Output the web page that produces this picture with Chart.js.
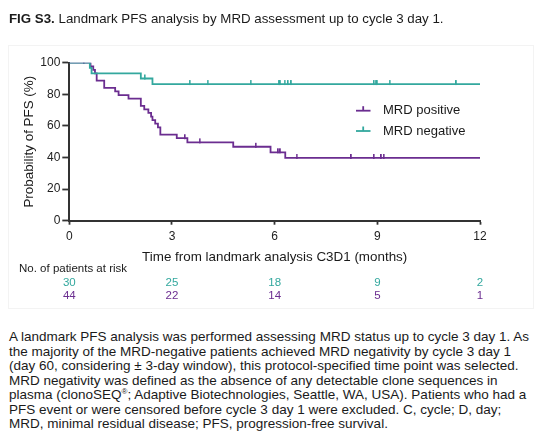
<!DOCTYPE html>
<html>
<head>
<meta charset="utf-8">
<script src="https://cdn.jsdelivr.net/npm/chart.js@4.4.1/dist/chart.umd.min.js"></script>
<style>
  html, body { margin:0; padding:0; background:#fff; }
  body { width:545px; height:439px; position:relative; overflow:hidden; font-family:"Liberation Sans", Arial, sans-serif; color:#1a1a1a; }
  #title { position:absolute; left:9px; top:11px; font-size:13.3px; line-height:15px; white-space:nowrap; }
  #wrap { position:absolute; left:0; top:0; width:545px; height:310px; }
  #frame { position:absolute; left:8px; top:45px; width:524px; height:262px; border:1px solid #f3f3f3; }
  #para { position:absolute; left:9px; top:330px; font-size:13.5px; line-height:14.5px; white-space:nowrap; }
</style>
</head>
<body>
<div id="frame"></div>
<div id="wrap"><canvas id="c" width="545" height="310"></canvas></div>
<div id="title"><b>FIG S3.</b> Landmark PFS analysis by MRD assessment up to cycle 3 day 1.</div>
<div id="para">A landmark PFS analysis was performed assessing MRD status up to cycle 3 day 1. As<br>the majority of the MRD-negative patients achieved MRD negativity by cycle 3 day 1<br>(day 60, considering ± 3-day window), this protocol-specified time point was selected.<br>MRD negativity was defined as the absence of any detectable clone sequences in<br>plasma (clonoSEQ<sup style="font-size:8px;line-height:0">®</sup>; Adaptive Biotechnologies, Seattle, WA, USA). Patients who had a<br>PFS event or were censored before cycle 3 day 1 were excluded. C, cycle; D, day;<br>MRD, minimal residual disease; PFS, progression-free survival.</div>
<script>
// ---- data ----
const xTicks = [0, 3, 6, 9, 12];
const yTicks = [0, 20, 40, 60, 80, 100];

const posTimes = [0, 0.62, 0.70, 0.75, 0.80, 1.02, 1.34, 1.44, 1.73, 2.09, 2.19, 2.31, 2.39, 2.43, 2.51, 2.59, 2.66, 3.14, 3.45, 4.79, 5.88, 6.31, 12];
const posSurv  = [100, 97.7, 95.5, 93.2, 88.6, 84.1, 81.8, 79.5, 77.3, 72.7, 70.5, 68.2, 65.9, 63.6, 61.4, 59.1, 54.5, 52.2, 49.6, 46.8, 43.3, 39.7, 39.7];
const posCensor = [0.43, 3.38, 3.81, 5.45, 6.11, 6.17, 6.64, 8.24, 8.90, 9.12, 9.19];

const negTimes = [0, 0.60, 0.65, 2.09, 2.43, 12];
const negSurv  = [100, 96.7, 93.3, 90.0, 86.5, 86.5];
const negCensor = [2.21, 3.52, 4.04, 5.30, 6.12, 6.17, 6.29, 6.39, 6.49, 8.90, 8.95, 9.00, 9.36, 11.31];

const riskNeg = [30, 25, 18, 9, 2];
const riskPos = [44, 22, 14, 5, 1];

const seriesNames = ['MRD positive', 'MRD negative'];
const PURPLE = '#6b2d90';
const TEAL = '#33a89e';

// ---- helpers ----
function survAt(times, surv, t) {
  let v = surv[0];
  for (let i = 0; i < times.length; i++) { if (times[i] <= t) v = surv[i]; }
  return v;
}
function tickMark(color) {
  const c = document.createElement('canvas');
  c.width = 2; c.height = 10;
  const g = c.getContext('2d');
  g.fillStyle = color;
  g.fillRect(0, 1, 1.6, 5);
  return c;
}
const FONT = '"Liberation Sans", Arial, sans-serif';

const legendPlugin = {
  id: 'kmLegend',
  afterDraw(chart) {
    const ctx = chart.ctx;
    const items = [[seriesNames[0], PURPLE, 110.7], [seriesNames[1], TEAL, 131]];
    ctx.save();
    items.forEach(([name, col, y]) => {
      ctx.strokeStyle = col; ctx.lineWidth = 1.8;
      ctx.beginPath(); ctx.moveTo(356, y); ctx.lineTo(370.5, y); ctx.stroke();
      ctx.beginPath(); ctx.moveTo(363.2, y); ctx.lineTo(363.2, y - 4.5); ctx.stroke();
      ctx.fillStyle = '#1a1a1a'; ctx.font = '13px ' + FONT;
      ctx.textBaseline = 'middle'; ctx.textAlign = 'left';
      ctx.fillText(name, 383, y);
    });
    ctx.restore();
  }
};
const riskPlugin = {
  id: 'riskTable',
  afterDraw(chart) {
    const ctx = chart.ctx, xs = chart.scales.x;
    ctx.save();
    ctx.font = '11.5px ' + FONT; ctx.textBaseline = 'middle';
    ctx.fillStyle = '#1a1a1a'; ctx.textAlign = 'left';
    ctx.fillText('No. of patients at risk', 19, 268.5);
    ctx.textAlign = 'center';
    xTicks.forEach((t, i) => {
      const px = xs.getPixelForValue(t);
      ctx.fillStyle = TEAL; ctx.fillText(String(riskNeg[i]), px, 282.5);
      ctx.fillStyle = PURPLE; ctx.fillText(String(riskPos[i]), px, 296);
    });
    ctx.restore();
  }
};

const posLine = posTimes.map((t, i) => ({x: t, y: posSurv[i]}));
const negLine = negTimes.map((t, i) => ({x: t, y: negSurv[i]}));
const posCens = posCensor.map(t => ({x: t, y: survAt(posTimes, posSurv, t)}));
const negCens = negCensor.map(t => ({x: t, y: survAt(negTimes, negSurv, t)}));

new Chart(document.getElementById('c'), {
  type: 'line',
  data: {
    datasets: [
      { label: seriesNames[1], data: negLine, borderColor: TEAL, borderWidth: 1.8, stepped: 'before', pointRadius: 0, fill: false },
      { label: seriesNames[1] + ' censored', data: negCens, showLine: false, pointStyle: tickMark(TEAL), pointRadius: 5 },
      { label: seriesNames[0], data: posLine, borderColor: PURPLE, borderWidth: 1.8, stepped: 'before', pointRadius: 0, fill: false },
      { label: seriesNames[0] + ' censored', data: posCens, showLine: false, pointStyle: tickMark(PURPLE), pointRadius: 5 }
    ]
  },
  options: {
    responsive: false, animation: false, devicePixelRatio: 1,
    layout: { padding: { left: 0, top: 62.7, right: 65, bottom: 44.3 } },
    plugins: { legend: { display: false }, tooltip: { enabled: false } },
    scales: {
      x: {
        type: 'linear', min: 0, max: 12,
        afterBuildTicks(s) { s.ticks = xTicks.map(v => ({value: v})); },
        afterFit(s) { s.height = 45; },
        grid: { drawOnChartArea: false, drawTicks: true, tickLength: 4, tickColor: '#333', tickWidth: 1.8 },
        border: { display: true, color: '#333', width: 2 },
        ticks: { color: '#222', font: { size: 12, family: FONT }, padding: 5, maxRotation: 0 },
        title: { display: true, text: 'Time from landmark analysis C3D1 (months)', color: '#1a1a1a', font: { size: 13.4, family: FONT }, padding: { top: 0, bottom: 0 } }
      },
      y: {
        min: 0, max: 100,
        afterBuildTicks(s) { s.ticks = yTicks.map(v => ({value: v})); },
        afterFit(s) { s.width = 69.3; },
        grid: { drawOnChartArea: false, drawTicks: true, tickLength: 7, tickColor: '#333', tickWidth: 1.8 },
        border: { display: true, color: '#333', width: 2 },
        ticks: { color: '#222', font: { size: 12, family: FONT }, padding: 2 },
        title: { display: true, text: 'Probability of PFS (%)', color: '#1a1a1a', font: { size: 13.4, family: FONT }, padding: { top: 21, bottom: 0 } }
      }
    }
  },
  plugins: [legendPlugin, riskPlugin]
});
</script>
</body>
</html>
